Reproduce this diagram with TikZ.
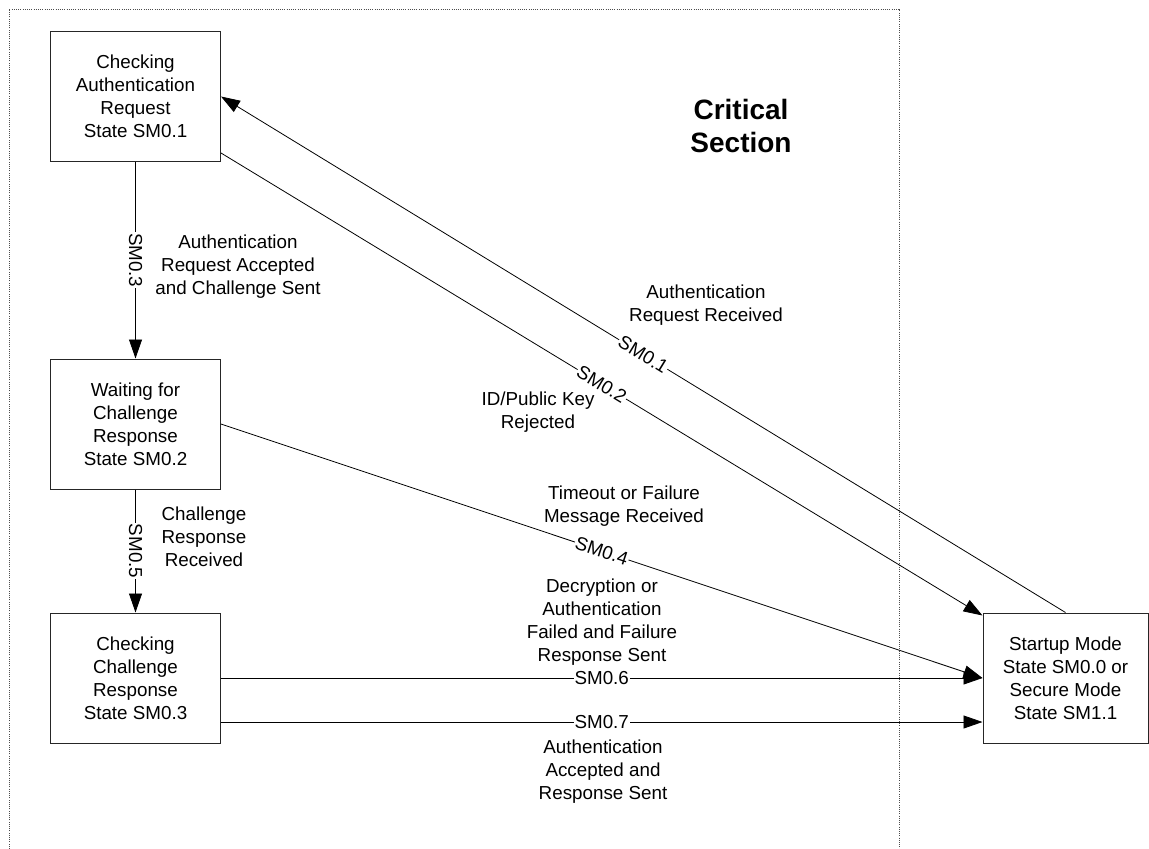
\documentclass[tikz,border=0pt]{standalone}
\usepackage{fontspec}
\setmainfont{Liberation Sans}
\usetikzlibrary{arrows.meta,calc}
\begin{document}
\begin{tikzpicture}[x=1pt,y=-1pt,
  state/.style={draw=black!85, line width=1pt, minimum width=170pt, minimum height=130pt,
    align=center, inner sep=0pt, font=\fontsize{18.8}{23}\selectfont},
  trans/.style={line width=0.8pt, -{Triangle[length=19pt,width=13pt]}},
  code/.style={fill=white, inner sep=1pt, font=\fontsize{18.8}{23}\selectfont, midway, sloped},
  note/.style={align=center, font=\fontsize{18.8}{23}\selectfont, inner sep=0pt},
  frame/.style={black!70, line width=1pt, dash pattern=on 1pt off 1.2pt},
]
\useasboundingbox (0,0) rectangle (1149,849);

% critical section boundary (open at the bottom)
\draw[frame] (9,849) -- (9,9) -- (899,9) -- (899,849);
\node[font=\fontsize{28}{33}\selectfont\bfseries, align=center] (cs) at (741,126) {Critical\\Section};

% states
\node[state] (b1) at (135.5,96.5) {Checking\\Authentication\\Request\\State SM0.1};
\node[state] (b2) at (135.5,424) {Waiting for\\Challenge\\Response\\State SM0.2};
\node[state] (b3) at (135.5,678) {Checking\\Challenge\\Response\\State SM0.3};
\node[state, minimum width=165pt] (r) at (1065.5,678) {Startup Mode\\State SM0.0 or\\Secure Mode\\State SM1.1};

% transitions
\draw[trans] (b1.south) -- node[code] {SM0.3} (b2.north);
\draw[trans] (b2.south) -- node[code] {SM0.5} (b3.north);
\draw[trans] (r.north) -- node[code] {SM0.1} (b1.east);
\draw[trans] ($(b1.south east)+(0,-9)$) -- node[code] {SM0.2} ($(r.north west)+(0,3)$);
\draw[trans] (b2.east) -- node[code] {SM0.4} (r.west);
\draw[trans] (b3.east) -- node[code] {SM0.6} (r.west);
\draw[trans] ($(b3.east)+(0,44)$) -- node[code] {SM0.7} ($(r.west)+(0,44)$);

% transition descriptions
\node[note] (n3) at (238,267) {Authentication\\Request Accepted\\and Challenge Sent};
\node[note] (n5) at (204,537) {Challenge\\Response\\Received};
\node[note] (n1) at (706,305) {Authentication\\Request Received};
\node[note] (n2) at (538,412) {ID/Public Key\\Rejected};
\node[note] (n4) at (624,506) {Timeout or Failure\\Message Received};
\node[note] (n6) at (602,622) {Decryption or\\Authentication\\Failed and Failure\\Response Sent};
\node[note] (n7) at (603,772) {Authentication\\Accepted and\\Response Sent};
\end{tikzpicture}
\end{document}
